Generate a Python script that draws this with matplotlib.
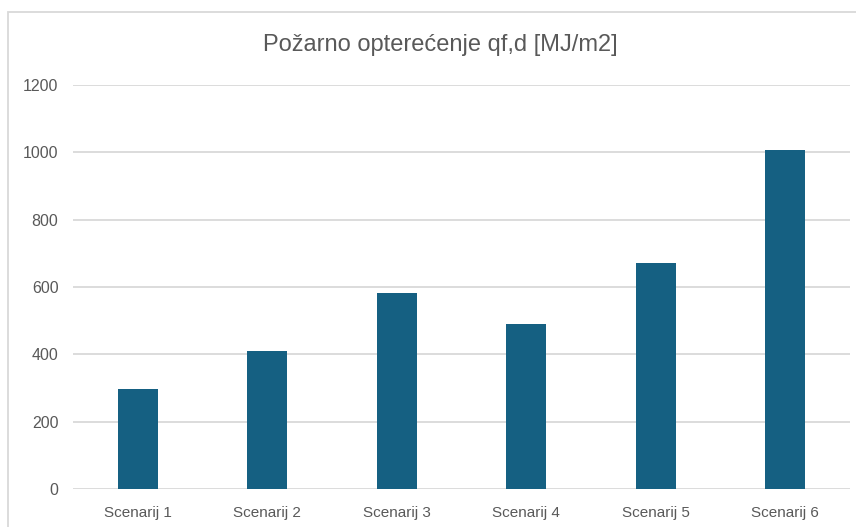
import matplotlib.pyplot as plt
from matplotlib.patches import Rectangle

# podaci
scenariji = ['Scenarij 1', 'Scenarij 2', 'Scenarij 3', 'Scenarij 4', 'Scenarij 5', 'Scenarij 6']
opterecenje = [297, 409, 583, 490, 671, 1006]
y_ticks = [0, 200, 400, 600, 800, 1000, 1200]

W, H = 856, 527
fig = plt.figure(figsize=(W / 100, H / 100), dpi=100)
ax = fig.add_axes([73 / W, 1 - 489 / H, (850 - 73) / W, (489 - 85) / H])

# okvir grafikona (desni i donji rub izlaze van slike)
fig.patches.append(Rectangle((8 / W, -0.1), 1, 1.1 - 12 / H, transform=fig.transFigure,
                             fill=False, edgecolor='#d9d9d9', linewidth=1.3))

x = range(len(scenariji))
ax.bar(x, opterecenje, width=0.31, color='#156082', zorder=3)

ax.set_xlim(-0.5, len(scenariji) - 0.5)
ax.set_ylim(0, 1200)
ax.set_yticks(y_ticks)
ax.set_xticks(list(x))
ax.set_xticklabels(scenariji)
ax.grid(axis='y', color='#d9d9d9', linewidth=1.3, zorder=0)
for s in ax.spines.values():
    s.set_visible(False)
ax.tick_params(axis='x', length=0, colors='#595959', labelsize=11, pad=12)
ax.tick_params(axis='y', length=0, colors='#595959', labelsize=11.5, pad=10.5)
for lbl in ax.get_xticklabels() + ax.get_yticklabels():
    lbl.set_family(['Liberation Sans', 'DejaVu Sans'])

fig.text(440 / W, 1 - 45 / H, 'Požarno opterećenje qf,d [MJ/m2]', ha='center', va='center',
         fontsize=17, color='#595959', family=['Liberation Sans Narrow', 'Liberation Sans', 'DejaVu Sans'])

fig.savefig('out.png', dpi=100)
